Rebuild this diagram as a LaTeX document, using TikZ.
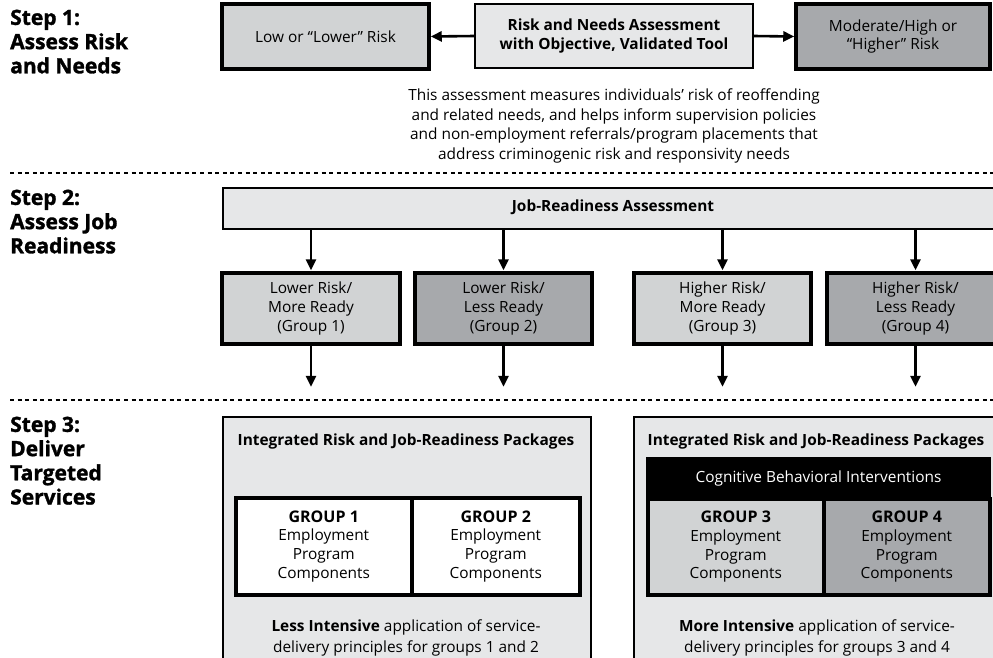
\documentclass[tikz,border=0pt]{standalone}
\usepackage{fontspec}
\setmainfont{Open Sans}
\newfontfamily\heavy[BoldFeatures={FakeBold=1.4}]{Open Sans}
\usetikzlibrary{arrows.meta}
\definecolor{vlight}{HTML}{E6E7E8}
\definecolor{lightg}{HTML}{D1D3D4}
\definecolor{darkg}{HTML}{A7A9AC}
\tikzset{
  thickbox/.style={draw=black, line width=3.5pt, align=center, inner sep=0pt},
  thinbox/.style={draw=black, line width=2.2pt, align=center, inner sep=0pt},
  arr/.style={line width=2.6pt, -{Triangle[length=11pt,width=10pt]}},
  divider/.style={line width=2pt, dash pattern=on 4pt off 3.6pt},
  steplabel/.style={anchor=north west, align=left, inner sep=0pt, font=\fontsize{21}{24.2}\selectfont\heavy\bfseries},
  bodytext/.style={align=center, inner sep=0pt, font=\fontsize{15.4}{19.6}\selectfont},
}
\begin{document}
\begin{tikzpicture}[x=1pt,y=-1pt, font=\fontsize{15.4}{18.8}\selectfont]
\useasboundingbox[fill=white] (0,0) rectangle (993,657);

% dividers
\coordinate (d1a) at (10,173); \coordinate (d1b) at (993,173);
\coordinate (d2a) at (10,400); \coordinate (d2b) at (993,400);
\draw[divider] (d1a) -- (d1b);
\draw[divider] (d2a) -- (d2b);

% step labels
\node[steplabel] (s1) at (10,9.5) {Step 1:\\Assess Risk\\and Needs};
\node[steplabel] (s2) at (10,189.5) {Step 2:\\Assess Job\\Readiness};
\node[steplabel] (s3) at (10,416.5) {Step 3:\\Deliver\\Targeted\\Services};

% step 1
\node[thickbox, fill=lightg, minimum width=207pt, minimum height=65pt] (low) at (325.5,36.5) {Low or “Lower” Risk};
\node[thinbox, fill=vlight, minimum width=278pt, minimum height=64pt, font=\fontsize{15.4}{19.6}\selectfont\bfseries] (mid) at (614,36) {Risk and Needs Assessment\\with Objective, Validated Tool};
\node[thickbox, fill=darkg, minimum width=194pt, minimum height=65pt] (high) at (893,36.5) {Moderate/High or\\“Higher” Risk};
\draw[arr] (mid.west) -- (low.east);
\draw[arr] (mid.east) -- (high.west);
\node[bodytext] (desc) at (614,126) {This assessment measures individuals’ risk of reoffending\\and related needs, and helps inform supervision policies\\and non-employment referrals/program placements that\\address criminogenic risk and responsivity needs};

% step 2
\node[thinbox, fill=vlight, minimum width=780pt, minimum height=41pt, anchor=north west] (jr) at (222,187) {};
\node[inner sep=0pt, font=\fontsize{15.4}{18}\selectfont\bfseries] (jrt) at (613,207) {Job-Readiness Assessment};

\node[thickbox, fill=lightg, minimum width=178pt, minimum height=71pt] (g1) at (311,308.5) {Lower Risk/\\More Ready\\(Group 1)};
\node[thickbox, fill=darkg, minimum width=177pt, minimum height=71pt] (g2) at (503.5,308.5) {Lower Risk/\\Less Ready\\(Group 2)};
\node[thickbox, fill=lightg, minimum width=177pt, minimum height=71pt] (g3) at (722.5,308.5) {Higher Risk/\\More Ready\\(Group 3)};
\node[thickbox, fill=darkg, minimum width=177pt, minimum height=71pt] (g4) at (915.5,308.5) {Higher Risk/\\Less Ready\\(Group 4)};
\foreach \g in {g1,g2,g3,g4}{
  \draw[arr, shorten >=1pt] (\g.north |- jr.south) -- (\g.north);
  \coordinate (\g e) at ([yshift=-41pt]\g.south);
  \draw[arr] (\g.south) -- (\g e);
}

% step 3 panels
\node[thinbox, fill=vlight, minimum width=368pt, minimum height=270pt, anchor=north west] (pl) at (222,416) {};
\node[thinbox, fill=vlight, minimum width=380pt, minimum height=270pt, anchor=north west] (pr) at (633,416) {};

\node[inner sep=0pt, font=\fontsize{15.4}{18}\selectfont\bfseries] (tl) at (406,441) {Integrated Risk and Job-Readiness Packages};
\node[inner sep=0pt, font=\fontsize{15.4}{18}\selectfont\bfseries] (tr) at (816,441) {Integrated Risk and Job-Readiness Packages};

\node[thickbox, fill=white, minimum width=176pt, minimum height=97pt, anchor=north west] (p1) at (234,496) {{\bfseries\fontsize{16}{18.8}\selectfont GROUP 1}\\Employment\\Program\\Components};
\node[thickbox, fill=white, minimum width=168pt, minimum height=97pt, anchor=north west] (p2) at (410,496) {{\bfseries\fontsize{16}{18.8}\selectfont GROUP 2}\\Employment\\Program\\Components};

\node[draw=black, line width=2pt, fill=black, text=white, inner sep=0pt, minimum width=343pt, minimum height=40pt, anchor=north west] (cbi) at (646,457) {Cognitive Behavioral Interventions};
\node[thickbox, fill=lightg, minimum width=176pt, minimum height=96pt, anchor=north west] (p3) at (646,497) {{\bfseries\fontsize{16}{18.8}\selectfont GROUP 3}\\Employment\\Program\\Components};
\node[thickbox, fill=darkg, minimum width=166pt, minimum height=96pt, anchor=north west] (p4) at (822,497) {{\bfseries\fontsize{16}{18.8}\selectfont GROUP 4}\\Employment\\Program\\Components};

\node[bodytext, font=\fontsize{15.4}{21}\selectfont] (bl) at (406,637.5) {\textbf{Less Intensive} application of service-\\delivery principles for groups 1 and 2};
\node[bodytext, font=\fontsize{15.4}{21}\selectfont] (br) at (817,637.5) {\textbf{More Intensive} application of service-\\delivery principles for groups 3 and 4};
\end{tikzpicture}
\end{document}
